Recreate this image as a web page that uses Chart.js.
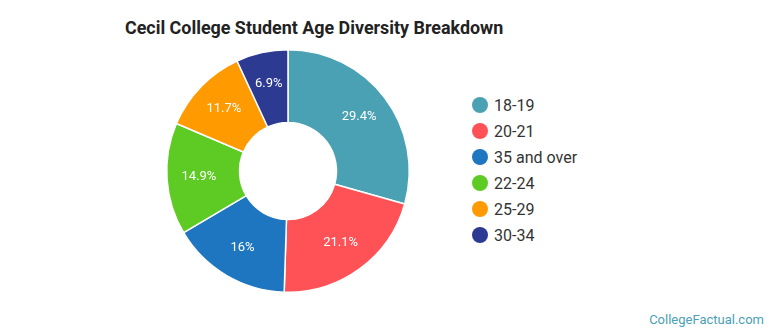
<!DOCTYPE html>
<html>
<head>
<meta charset="utf-8">
<script src="https://cdn.jsdelivr.net/npm/chart.js@4/dist/chart.umd.min.js"></script>
<style>
  html, body { margin: 0; padding: 0; background: #fff; }
  body { width: 770px; height: 335px; position: relative; overflow: hidden; font-family: Roboto, "Open Sans", sans-serif; }
  #title { position: absolute; left: 125px; top: 17px; font-size: 17.9px; font-weight: 700; color: #222; white-space: nowrap; }
  #chartBox { position: absolute; left: 160px; top: 43px; width: 256px; height: 256px; }
  #legend { position: absolute; left: 472px; top: 92px; }
  .item { height: 26px; display: flex; align-items: center; font-size: 16px; color: #333; white-space: nowrap; }
  .dot { width: 16px; height: 16px; border-radius: 50%; margin-right: 6px; flex: none; }
  #footer { position: absolute; right: 6px; top: 312px; font-size: 13px; color: #4a9fb3; }
</style>
</head>
<body>
<div id="title">Cecil College Student Age Diversity Breakdown</div>
<div id="chartBox"><canvas id="c"></canvas></div>
<div id="legend"></div>
<div id="footer">CollegeFactual.com</div>
<script>
const categories = ["18-19", "20-21", "35 and over", "22-24", "25-29", "30-34"];
const percentages = [29.4, 21.1, 16, 14.9, 11.7, 6.9];
const colors = ["#4aa1b4", "#ff5257", "#1f76c0", "#5ecb24", "#ff9a00", "#2c3a92"];

const legendEl = document.getElementById('legend');
categories.forEach((c, i) => {
  const d = document.createElement('div');
  d.className = 'item';
  d.innerHTML = '<span class="dot" style="background:' + colors[i] + '"></span><span>' + c + '</span>';
  legendEl.appendChild(d);
});

const sliceLabels = {
  id: 'sliceLabels',
  afterDatasetsDraw(chart) {
    const ctx = chart.ctx;
    const meta = chart.getDatasetMeta(0);
    ctx.save();
    ctx.fillStyle = '#fff';
    ctx.font = '13px Roboto, sans-serif';
    ctx.textAlign = 'center';
    ctx.textBaseline = 'middle';
    meta.data.forEach((arc, i) => {
      const p = arc.getProps(['x', 'y', 'startAngle', 'endAngle', 'innerRadius', 'outerRadius'], true);
      const mid = (p.startAngle + p.endAngle) / 2;
      const r = p.innerRadius + (p.outerRadius - p.innerRadius) * 0.56;
      ctx.fillText(percentages[i] + '%', p.x + Math.cos(mid) * r, p.y + Math.sin(mid) * r);
    });
    ctx.restore();
  }
};

new Chart(document.getElementById('c'), {
  type: 'doughnut',
  data: {
    labels: categories,
    datasets: [{
      data: percentages,
      backgroundColor: colors,
      borderColor: '#fff',
      borderWidth: 1.5
    }]
  },
  options: {
    responsive: true,
    maintainAspectRatio: false,
    animation: false,
    cutout: '40%',
    layout: { padding: 6 },
    plugins: { legend: { display: false }, tooltip: { enabled: false } }
  },
  plugins: [sliceLabels]
});
</script>
</body>
</html>
